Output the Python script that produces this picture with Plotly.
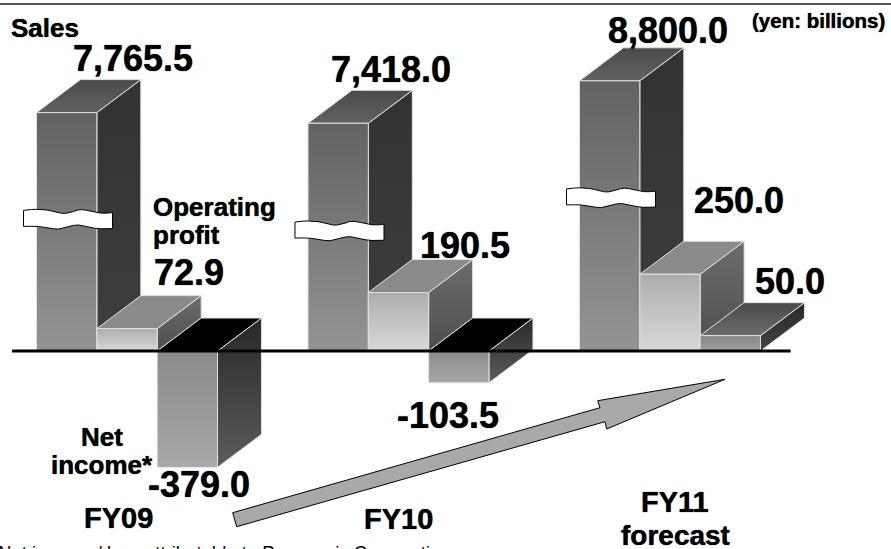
import plotly.graph_objects as go

# Results by fiscal year, yen in billions
FISCAL_YEARS = ["FY09", "FY10", "FY11<br>forecast"]
SALES = [7765.5, 7418.0, 8800.0]
OPERATING_PROFIT = [72.9, 190.5, 250.0]
NET_INCOME = [-379.0, -103.5, 50.0]

WIDTH, HEIGHT = 891, 549
FONT = "Liberation Sans, Arial, sans-serif"

# Axis geometry: one x unit is one bar width; the sales bars use a 1:10 broken scale
PX_PER_BAR = 60.33
PX_PER_YEN = 0.307
X_ORIGIN_PX = 36.5
Y_ORIGIN_PX = 351
GROUP_STARTS = [0.0, 4.5, 9.0]
SALES_BREAK_FACTOR = 0.1
DEPTH_X = 44 / PX_PER_BAR
DEPTH_Y = 33 / PX_PER_YEN

# Face shading: (upper colour, lower colour) for each visible face
SALES_STYLE = dict(front=("#626262", "#949494"), side=("#323232", "#3e3e3e"), top=("#4a4a4a", "#626262"))
PROFIT_STYLE = dict(front=("#adadad", "#d9d9d9"), side=("#6c6c6c", "#4e4e4e"), top=("#8a8a8a", "#8a8a8a"))
LOSS_STYLE = dict(front=("#8a8a8a", "#a8a8a8"), side=("#282828", "#5c5c5c"), top=("#000000", "#000000"))
SMALL_GAIN_STYLE = dict(front=("#858585", "#a0a0a0"), side=("#282828", "#444444"), top=("#4a4a4a", "#6c6c6c"))
EDGE = "#e2e2e2"

# Wavy break ribbon outline, in pixels from its upper-left corner
RIBBON_TOP = [(0, 0), (4, -0.6), (8, -0.9), (13, -1.1), (18, -1), (23, -0.4), (28, 0.6), (33, 2), (38, 2.9),
              (42, 3), (46, 2.4), (50, 1.1), (54, -0.3), (58, -0.7), (62, -0.3), (67, 0.9), (72, 2.1),
              (77, 2.7), (83, 2.8), (89, 2.2)]
RIBBON_BOTTOM = [(89, 18.2), (83, 18.6), (77, 18.4), (71, 17.8), (65, 16.4), (60, 15.2), (55, 14.6), (50, 15),
                 (45, 16.4), (40, 18), (35, 18.7), (30, 18.4), (25, 17.5), (20, 16.6), (15, 16.1), (8, 15.9), (0, 16)]
RIBBON_LEFT_PX = -13
RIBBON_LEVELS = [458, 420, 528]

fig = go.Figure()


def add_face(xs, ys, shades):
    upper, lower = shades
    fig.add_trace(go.Scatter(
        x=xs + xs[:1], y=ys + ys[:1], mode="lines", fill="toself",
        line=dict(color=EDGE, width=1),
        fillgradient=dict(
            type="vertical",
            colorscale=[[0, lower], [1, upper]],
            start=min(ys), stop=max(ys),
        ),
        hoverinfo="skip", showlegend=False,
    ))


def add_box(left, value, style):
    low, high = min(value, 0), max(value, 0)
    right = left + 1
    add_face([right, right + DEPTH_X, right + DEPTH_X, right],
             [low, low + DEPTH_Y, high + DEPTH_Y, high], style["side"])
    add_face([left, right, right + DEPTH_X, left + DEPTH_X],
             [high, high, high + DEPTH_Y, high + DEPTH_Y], style["top"])
    add_face([left, right, right, left], [low, low, high, high], style["front"])


for start, sales, profit, net in zip(GROUP_STARTS, SALES, OPERATING_PROFIT, NET_INCOME):
    add_box(start, sales * SALES_BREAK_FACTOR, SALES_STYLE)
    add_box(start + 1, profit, PROFIT_STYLE)
    add_box(start + 2, net, LOSS_STYLE if net < 0 else SMALL_GAIN_STYLE)

# Break ribbons across the sales bars
for start, level in zip(GROUP_STARTS, RIBBON_LEVELS):
    outline = RIBBON_TOP + RIBBON_BOTTOM + RIBBON_TOP[:1]
    fig.add_trace(go.Scatter(
        x=[start + (RIBBON_LEFT_PX + px) / PX_PER_BAR for px, _ in outline],
        y=[level - py / PX_PER_YEN for _, py in outline],
        mode="lines", fill="toself", fillcolor="#ffffff",
        line=dict(color="#000000", width=1),
        hoverinfo="skip", showlegend=False,
    ))

# Zero line
fig.add_trace(go.Scatter(
    x=[-0.405, 12.5], y=[0, 0], mode="lines",
    line=dict(color="#000000", width=3),
    hoverinfo="skip", showlegend=False,
))


def paper_x(px):
    return px / WIDTH


def paper_y(py):
    return 1 - py / HEIGHT


def label(text, px, py, size, anchor="center", weight="bold", heavy=True):
    fig.add_annotation(
        text=text, xref="paper", yref="paper", x=paper_x(px), y=paper_y(py),
        xanchor=anchor, yanchor="middle", showarrow=False, align=anchor,
        borderpad=0, borderwidth=0,
        font=dict(family=FONT, size=size, color="#000000", weight=weight,
                  shadow="0 0 1px #000000" if heavy else "none"),
    )


def money(value):
    return f"{value:,.1f}"


# Value labels
for text_value, px, py in zip(SALES, [133, 391, 668], [58.5, 69, 31]):
    label(money(text_value), px, py, 36)
for text_value, px, py in zip(OPERATING_PROFIT, [189, 465, 738.5], [272, 245, 200]):
    label(money(text_value), px, py, 36)
for text_value, px, py in zip(NET_INCOME, [198.5, 448, 790], [484.5, 415, 281.5]):
    label(money(text_value), px, py, 36)

# Series, period and unit labels
label("Sales", 11, 28, 26, anchor="left")
label("Operating", 152.5, 207, 26, anchor="left")
label("profit", 152.5, 235, 26, anchor="left")
label("Net", 102, 437, 26)
label("income*", 102, 465, 26)
label("(yen: billions)", 818, 20, 20.5)
for year, px, py in zip(FISCAL_YEARS[:2], [118.5, 398], [518, 519]):
    label(year, px, py, 29)
year_line, note_line = FISCAL_YEARS[2].split("<br>")
label(year_line, 675, 502, 29)
label(note_line, 675, 535, 28)
label("Net income / loss attributable to Panasonic Corporation", 450, 552, 18.5,
      anchor="right", weight="normal", heavy=False)

# Upward trend arrow and top rule, placed on the page
ARROW = [(232.7, 512.7), (600, 407.7), (597.7, 400.7), (725, 379.3),
         (606.7, 429), (605, 421.7), (236.7, 526.7)]
arrow_path = "M " + " L ".join(f"{paper_x(x):.5f},{paper_y(y):.5f}" for x, y in ARROW) + " Z"
fig.add_shape(type="path", xref="paper", yref="paper", path=arrow_path,
              fillcolor="#a9a9a9", line=dict(color="#000000", width=1))
fig.add_shape(type="line", xref="paper", yref="paper",
              x0=0, x1=1, y0=paper_y(4), y1=paper_y(4),
              line=dict(color="#555555", width=2))

fig.update_layout(
    width=WIDTH, height=HEIGHT, margin=dict(l=0, r=0, t=0, b=0),
    paper_bgcolor="#ffffff", plot_bgcolor="#ffffff", showlegend=False,
    xaxis=dict(visible=False, range=[-X_ORIGIN_PX / PX_PER_BAR, (WIDTH - X_ORIGIN_PX) / PX_PER_BAR]),
    yaxis=dict(visible=False, range=[(Y_ORIGIN_PX - HEIGHT) / PX_PER_YEN, Y_ORIGIN_PX / PX_PER_YEN]),
)

fig.write_html("out.html")
